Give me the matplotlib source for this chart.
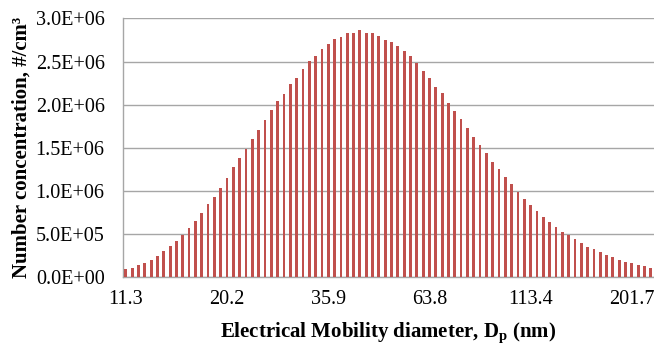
import numpy as np
import matplotlib
matplotlib.use("Agg")
import matplotlib.pyplot as plt
from matplotlib.ticker import FuncFormatter

plt.rcParams['font.family'] = ['Liberation Serif', 'DejaVu Serif']
plt.rcParams['mathtext.fontset'] = 'custom'
plt.rcParams['mathtext.rm'] = 'Liberation Serif'
plt.rcParams['mathtext.bf'] = 'Liberation Serif:bold'

# SMPS channel midpoints (nm)
diameters = [11.3, 11.8, 12.2, 12.6, 13.1, 13.6, 14.1, 14.6, 15.1, 15.7,
             16.3, 16.8, 17.5, 18.1, 18.8, 19.5, 20.2, 20.9, 21.7, 22.5,
             23.3, 24.1, 25.0, 25.9, 26.9, 27.9, 28.9, 30.0, 31.1, 32.2,
             33.4, 34.6, 35.9, 37.2, 38.5, 40.0, 41.4, 42.9, 44.5, 46.1,
             47.8, 49.6, 51.4, 53.3, 55.2, 57.3, 59.4, 61.5, 63.8, 66.1,
             68.5, 71.0, 73.7, 76.4, 79.1, 82.0, 85.1, 88.2, 91.4, 94.7,
             98.2, 101.8, 105.5, 109.4, 113.4, 117.6, 121.9, 126.3, 131.0, 135.8,
             140.7, 145.9, 151.2, 156.8, 162.5, 168.5, 174.7, 181.1, 187.7, 194.6,
             201.7, 209.1, 216.7, 224.7]

# number concentration, #/cm3
concentration = [0.093e6, 0.108e6, 0.139e6, 0.166e6, 0.201e6, 0.248e6, 0.302e6, 0.368e6, 0.426e6, 0.491e6,
                 0.573e6, 0.658e6, 0.743e6, 0.851e6, 0.933e6, 1.033e6, 1.153e6, 1.277e6, 1.382e6, 1.482e6,
                 1.606e6, 1.707e6, 1.823e6, 1.935e6, 2.039e6, 2.129e6, 2.241e6, 2.314e6, 2.415e6, 2.504e6,
                 2.566e6, 2.647e6, 2.701e6, 2.763e6, 2.790e6, 2.829e6, 2.837e6, 2.864e6, 2.837e6, 2.837e6,
                 2.798e6, 2.755e6, 2.728e6, 2.686e6, 2.620e6, 2.566e6, 2.485e6, 2.395e6, 2.310e6, 2.206e6,
                 2.132e6, 2.024e6, 1.923e6, 1.834e6, 1.734e6, 1.625e6, 1.536e6, 1.440e6, 1.339e6, 1.254e6,
                 1.165e6, 1.076e6, 0.987e6, 0.906e6, 0.840e6, 0.766e6, 0.704e6, 0.639e6, 0.588e6, 0.530e6,
                 0.488e6, 0.441e6, 0.395e6, 0.352e6, 0.325e6, 0.290e6, 0.263e6, 0.236e6, 0.201e6, 0.178e6,
                 0.163e6, 0.147e6, 0.132e6, 0.108e6]

label_step = 16

fig = plt.figure(figsize=(6.54, 3.48), dpi=100)
ax = fig.add_axes([0.1876, 0.203, 0.8124, 0.744])

x = np.arange(len(diameters))
ax.bar(x, concentration, width=0.44, color='#C0504D', zorder=3)

ax.set_xlim(-0.5, len(diameters) - 0.5)
ax.set_ylim(0, 3.0e6)
ax.set_yticks(np.arange(0, 3.01e6, 0.5e6))
ax.yaxis.set_major_formatter(FuncFormatter(lambda v, p: f"{v:.1E}"))
ax.set_xticks(x[::label_step])
ax.set_xticklabels([f"{d:.1f}" for d in diameters[::label_step]])

ax.grid(axis='y', color='#A6A6A6', linewidth=1.0, zorder=0)
for s in ['top', 'right']:
    ax.spines[s].set_visible(False)
for s in ['left', 'bottom']:
    ax.spines[s].set_color('#A6A6A6')
    ax.spines[s].set_linewidth(1.0)
ax.tick_params(axis='both', length=0, labelsize=14.5)
ax.tick_params(axis='x', pad=9)
ax.tick_params(axis='y', pad=13)

ax.set_xlabel(r'Electrical Mobility diameter, D$_\mathbf{p}$ (nm)', fontsize=15,
              fontweight='bold', labelpad=9)
ax.set_ylabel('Number concentration, #/cm³', fontsize=15, fontweight='bold', labelpad=3)

fig.savefig('out.png', dpi=100)
